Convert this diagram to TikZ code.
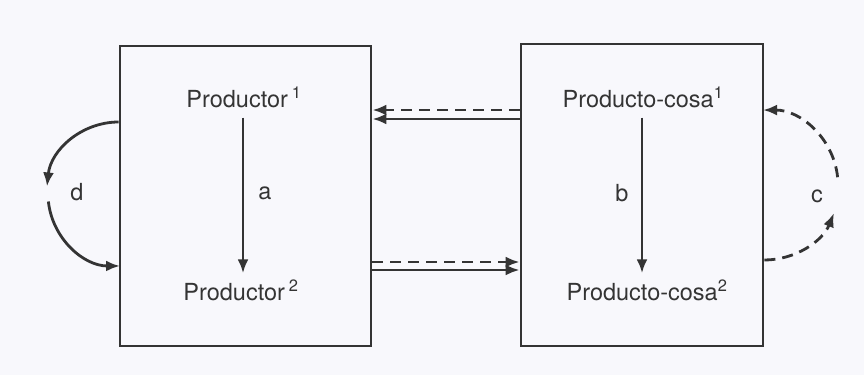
\documentclass[tikz,border=0pt]{standalone}
\usepackage{fontspec}
\setmainfont{TeX Gyre Heros}
\usetikzlibrary{arrows.meta}
\definecolor{ink}{HTML}{343434}
\definecolor{paper}{HTML}{F8F8FC}
\tikzset{
  box/.style={draw=ink, line width=2.8pt, minimum width=#1},
  word/.style={text=ink, font=\fontsize{23.5}{27}\selectfont, inner sep=0pt},
  arr/.style={draw=ink, line width=2.8pt, -{Latex[length=14pt,width=11pt]}},
  dashline/.style={dash pattern=on 11pt off 7pt}
}
\begin{document}
\begin{tikzpicture}[x=1pt,y=1pt]
            \fill[paper] (0,0) rectangle (864,-375);
            \useasboundingbox (0,0) rectangle (864,-375);
            \node at (245.5,-196) [box=251pt, minimum height=300pt] (lbox) {};
            \node at (642,-195) [box=242pt, minimum height=302pt] (rbox) {};
            \node at (244,-97) [word] (p1) {Productor\,\textsuperscript{1}};
            \node at (241,-290) [word] (p2) {Productor\,\textsuperscript{2}};
            \node at (643,-97) [word] (c1) {Producto-cosa\textsuperscript{1}};
            \node at (647,-290) [word] (c2) {Producto-cosa\textsuperscript{2}};
            \node at (265,-193) [word] (la) {a};
            \node at (622,-193) [word] (lb) {b};
            \node at (817,-196) [word] (lc) {c};
            \node at (77,-192) [word] (ld) {d};
            \coordinate (t1) at (rbox.west |- 0,-110);
            \coordinate (t2) at (rbox.west |- 0,-119);
            \coordinate (u1) at (lbox.east |- 0,-262);
            \coordinate (u2) at (lbox.east |- 0,-270);
            \coordinate (d1) at (lbox.west |- 0,-122);
            \coordinate (d2) at (48.4,-201.5);
            \coordinate (c3) at (837.6,-177.2);
            \coordinate (c4) at (rbox.east |- 0,-260);
            \draw[arr, shorten <=10pt, shorten >=6pt] (p1.south -| 243,0) -- (p2.north -| 243,0);
            \draw[arr, shorten <=10pt, shorten >=6pt] (c1.south -| 642,0) -- (c2.north -| 642,0);
            \draw[arr, dashline] (t1) -- (t1 -| lbox.east);
            \draw[arr] (t2) -- (t2 -| lbox.east);
            \draw[arr, dashline] (u1) -- (u1 -| rbox.west);
            \draw[arr] (u2) -- (u2 -| rbox.west);
            \draw[arr] (d1) arc[start angle=90, end angle=174, radius=72];
            \draw[arr] (d2) arc[start angle=186, end angle=270, radius=72];
            \draw[arr, dashline] (c3) arc[start angle=6, end angle=90, radius=75];
            \draw[arr, dashline] (c4) arc[start angle=-90, end angle=-22, radius=75];
        \end{tikzpicture}
\end{document}
